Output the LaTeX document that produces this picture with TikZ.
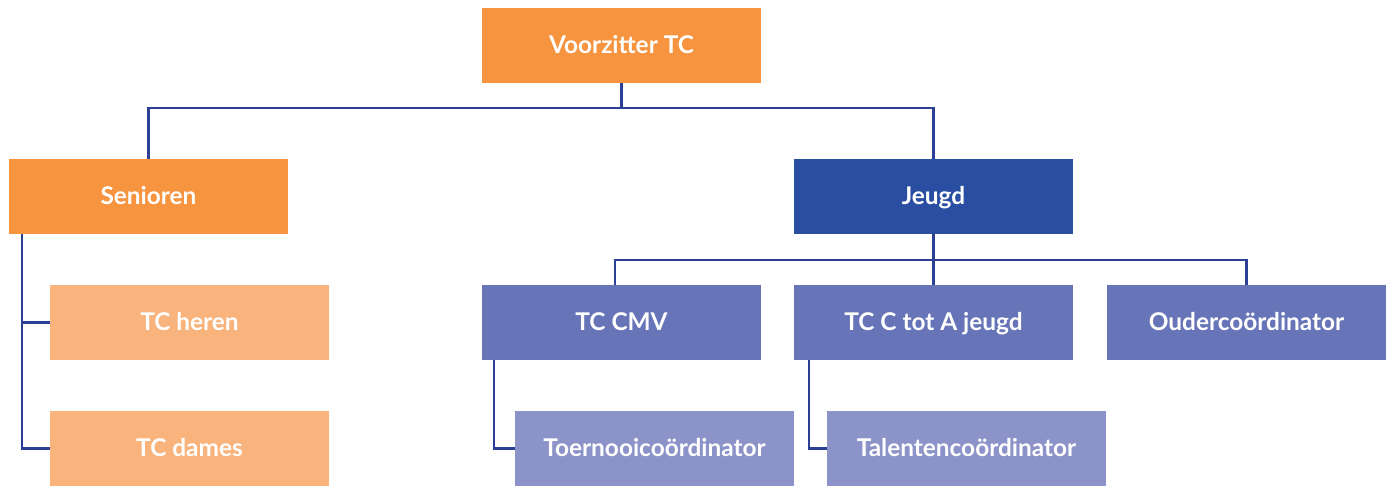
\documentclass[tikz,border=0pt]{standalone}
\usepackage{fontspec}
\setmainfont{Lato}
\usepackage{xcolor}
\usetikzlibrary{positioning,calc}
\definecolor{oranje}{HTML}{F6943F}
\definecolor{lichtoranje}{HTML}{F8B47C}
\definecolor{donkerblauw}{HTML}{2A4FA2}
\definecolor{middenblauw}{HTML}{6775B8}
\definecolor{lichtblauw}{HTML}{8C93C8}
\definecolor{lijn}{HTML}{2B3F94}
\tikzset{
  box/.style = {minimum width = 139.5pt, minimum height = 37.5pt, inner sep = 0pt,
    text height = 1.8ex, text depth = .2ex,
    text = white, font = \fontsize{12.2}{14}\selectfont\bfseries},
  tak/.style = {draw = lijn, line width = 1.1pt}
}
\begin{document}
\begin{tikzpicture}[x = .5pt, y = -.5pt]
\useasboundingbox (0,0) rectangle (1392,486);
% top
\node[box, fill = oranje] (voorzitter) at (621.5, 45.5) {Voorzitter TC};
% second row
\node[box, fill = oranje] (senioren) at (148.5, 196.5) {Senioren};
\node[box, fill = donkerblauw] (jeugd) at (933.5, 196.5) {Jeugd};
% senioren
\node[box, fill = lichtoranje] (heren) at (189.5, 322.5) {TC heren};
\node[box, fill = lichtoranje] (dames) at (189.5, 448.5) {TC dames};
% jeugd
\node[box, fill = middenblauw] (cmv) at (621.5, 322.5) {TC CMV};
\node[box, fill = middenblauw] (ctota) at (933.5, 322.5) {TC C tot A jeugd};
\node[box, fill = middenblauw] (ouder) at (1246.5, 322.5) {Oudercoördinator};
\node[box, fill = lichtblauw] (toernooi) at (654.5, 448.5) {Toernooicoördinator};
\node[box, fill = lichtblauw] (talenten) at (966.5, 448.5) {Talentencoördinator};
% connectors
\draw[tak] (voorzitter.south) -- ++(0, 25) -| (senioren.north);
\draw[tak] (voorzitter.south) -- ++(0, 25) -| (jeugd.north);
\draw[tak] (jeugd.south) -- ++(0, 26) -| ([xshift = -3.25pt]cmv.north);
\draw[tak] (jeugd.south) -- (ctota.north);
\draw[tak] (jeugd.south) -- ++(0, 26) -| (ouder.north);
\draw[tak] ([xshift = 6.5pt]senioren.south west) |- (heren.west);
\draw[tak] ([xshift = 6.5pt]senioren.south west) |- (dames.west);
\draw[tak] ([xshift = 6pt]cmv.south west) |- (toernooi.west);
\draw[tak] ([xshift = 7.5pt]ctota.south west) |- (talenten.west);
\end{tikzpicture}
\end{document}
